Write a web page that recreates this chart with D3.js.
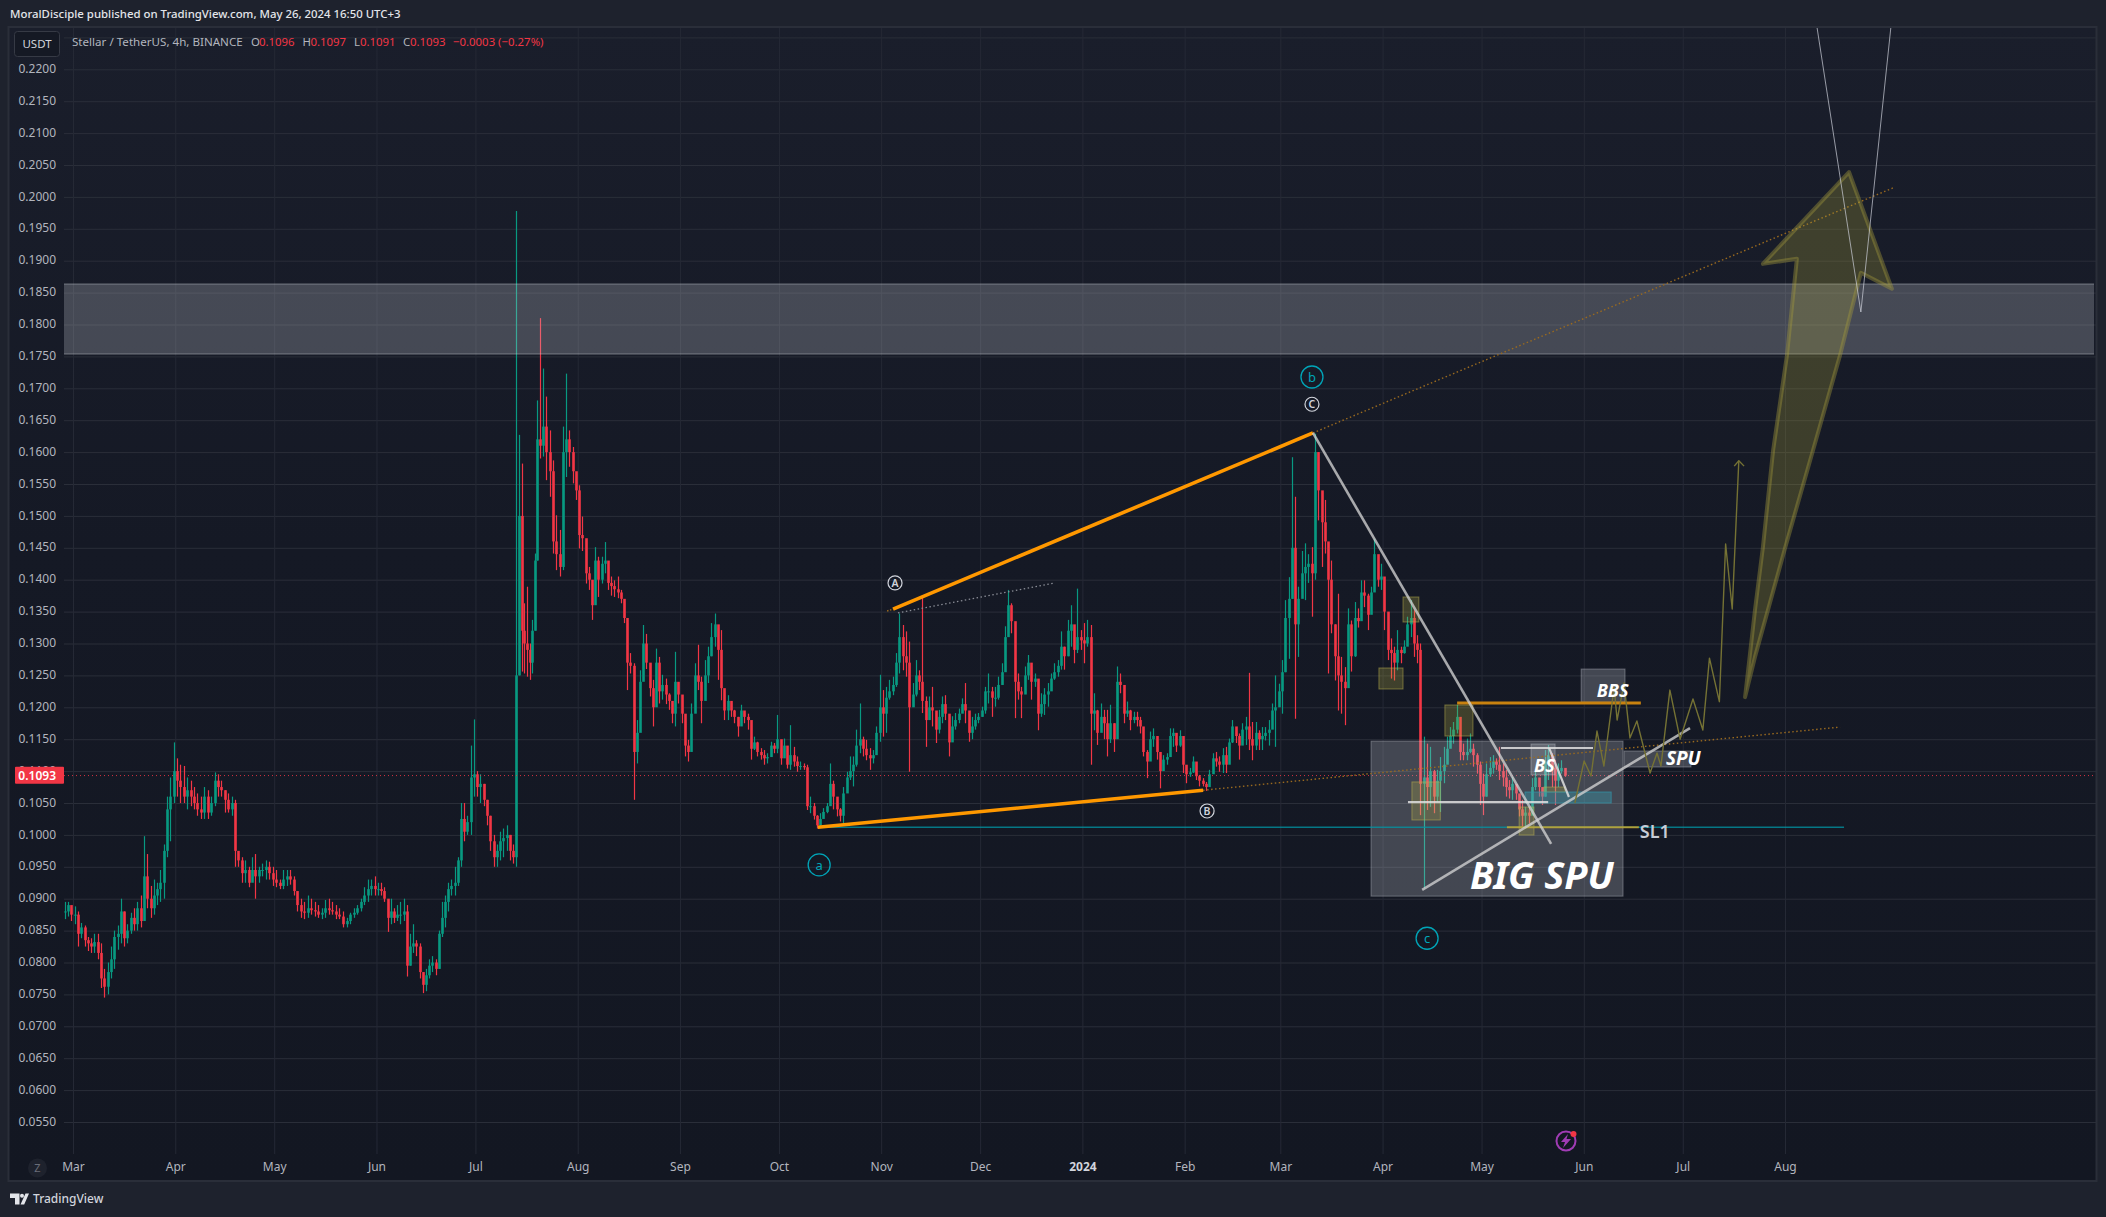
<!DOCTYPE html>
<html><head><meta charset="utf-8">
<script src="https://cdn.jsdelivr.net/npm/d3@7"></script>
<style>html,body{margin:0;padding:0;background:#1e222d;overflow:hidden}svg{display:block}
text{font-family:"Noto Sans",sans-serif}</style></head><body>
<svg id="c" width="2106" height="1217"></svg>
<script>
// Price values are in 1/10000 USDT. Rows: [high, low, close]; open is the previous close.
const feb23=[[895,868,880],[895,872,890],[885,865,875]];
const mar23=[[888,860,875],[880,825,845],[862,838,855],[858,825,835],[840,818,830],[838,815,825],[845,815,832],[845,805,815],[830,760,775],[790,745,762],[800,750,785],[825,775,805],[850,790,840],[858,820,845],[900,830,880],[880,825,838],[860,830,850],[878,845,870],[885,850,860],[895,850,885],[905,855,865],[998,890,935],[970,885,900],[920,870,885],[930,875,905],[925,890,915],[945,895,925],[985,900,975],[1060,965,1040],[1090,990,1060],[1145,1050,1100]];
const apr23=[[1120,1060,1085],[1110,1050,1075],[1108,1050,1060],[1090,1040,1070],[1085,1045,1060],[1075,1040,1050],[1065,1030,1040],[1060,1025,1035],[1075,1025,1060],[1070,1025,1035],[1060,1030,1050],[1098,1045,1085],[1095,1060,1075],[1085,1060,1070],[1070,1035,1055],[1065,1035,1040],[1060,1030,1050],[1055,950,975],[970,950,960],[965,925,940],[960,925,945],[950,918,925],[965,930,945],[970,900,935],[950,925,945],[955,935,945],[960,930,950],[958,930,940],[950,920,930]];
const may23=[[945,918,925],[930,915,920],[945,915,930],[945,920,935],[945,922,930],[935,905,912],[910,880,890],[900,870,880],[895,868,878],[905,870,885],[900,875,882],[895,872,880],[890,870,875],[885,868,878],[898,870,885],[900,875,882],[895,875,880],[890,868,875],[885,868,872],[880,855,860],[870,855,865],[878,860,875],[885,870,878],[890,875,885],[900,880,895],[918,890,905],[930,895,915],[930,905,920],[935,905,915]];
const jun23=[[925,905,915],[925,905,912],[918,895,900],[895,848,870],[900,860,880],[885,862,870],[890,865,875],[895,860,875],[900,865,880],[890,778,795],[845,795,825],[860,815,830],[835,810,825],[830,775,785],[785,752,765],[790,755,780],[805,775,795],[810,785,800],[805,780,790],[850,790,845],[895,840,870],[905,855,895],[925,880,915],[930,905,920],[950,905,925],[965,920,960],[1050,950,1025],[1050,990,1005],[1030,1000,1020],[1140,1000,1090],[1181,1060,1095]];
const jul23a=[[1100,1060,1075],[1095,1050,1080],[1080,1045,1055],[1055,1015,1030],[1030,975,990],[1000,950,965],[985,950,975],[1005,960,990],[1010,965,995],[1015,975,1000],[1000,960,975],[985,955,965]];
const jul23b=[[1978,950,1250],[1627,1250,1500],[1582,1256,1320],[1363,1253,1300],[1389,1248,1290],[1300,1243,1270],[1337,1253,1320],[1441,1320,1430],[1681,1430,1620],[1810,1590,1610]];
const jul23c=[[1731,1593,1640],[1687,1556,1600],[1634,1530,1570],[1587,1441,1460],[1501,1415,1440],[1478,1405,1420],[1640,1415,1600],[1723,1561,1620],[1634,1577,1600],[1608,1551,1570],[1566,1525,1540]];
const aug23=[[1548,1449,1470],[1499,1445,1465],[1462,1394,1410],[1420,1384,1400],[1394,1337,1360],[1451,1378,1430],[1436,1373,1400],[1436,1394,1425],[1459,1410,1430],[1420,1384,1395],[1405,1375,1390],[1399,1373,1385],[1405,1371,1380],[1384,1363,1370],[1366,1332,1340],[1332,1227,1270],[1285,1253,1265],[1269,1055,1130],[1180,1112,1160],[1258,1180,1240],[1329,1258,1300],[1315,1260,1270],[1269,1217,1230],[1243,1170,1200],[1292,1222,1270],[1279,1206,1225],[1251,1212,1235],[1245,1205,1220],[1222,1196,1210],[1206,1175,1190],[1287,1170,1240],[1238,1206,1220]];
const sep23=[[1211,1175,1190],[1180,1123,1140],[1149,1115,1130],[1206,1133,1190],[1269,1206,1250],[1298,1227,1240],[1248,1175,1210],[1274,1217,1250],[1295,1238,1280],[1332,1280,1310],[1347,1295,1330],[1324,1243,1290],[1321,1211,1230],[1225,1180,1195],[1219,1180,1210],[1207,1185,1195],[1196,1175,1185],[1185,1154,1170],[1204,1175,1195],[1193,1175,1185],[1190,1165,1180],[1154,1118,1135],[1154,1133,1145],[1146,1123,1130],[1136,1118,1125],[1133,1110,1120],[1128,1112,1122],[1146,1123,1140],[1144,1128,1135],[1188,1128,1150]];
const oct23=[[1136,1110,1120],[1151,1123,1140],[1123,1104,1110],[1172,1102,1125],[1138,1107,1115],[1123,1099,1108],[1115,1102,1108],[1112,1102,1106],[1110,1039,1045],[1060,1034,1045],[1050,1024,1030],[1031,1010,1015],[1034,1013,1025],[1042,1029,1036],[1050,1034,1045],[1112,1050,1080],[1085,1040,1060],[1050,1029,1040],[1042,1021,1030],[1075,1018,1065],[1099,1075,1090],[1123,1086,1100],[1123,1076,1110],[1165,1107,1140],[1206,1128,1150],[1154,1123,1135],[1149,1117,1125],[1136,1102,1120],[1133,1112,1125],[1170,1146,1160],[1251,1146,1200]];
const nov23=[[1227,1154,1190],[1232,1160,1215],[1243,1212,1225],[1248,1219,1235],[1285,1232,1270],[1347,1253,1310],[1329,1258,1280],[1319,1248,1270],[1303,1099,1200],[1238,1201,1220],[1274,1217,1250],[1258,1227,1240],[1376,1191,1210],[1217,1138,1180],[1217,1180,1200],[1232,1170,1195],[1191,1144,1165],[1196,1159,1185],[1217,1175,1205],[1219,1180,1190],[1180,1123,1145],[1186,1159,1170],[1191,1165,1180],[1198,1175,1190],[1214,1191,1205],[1238,1175,1195],[1175,1146,1160],[1185,1150,1170],[1190,1165,1180],[1191,1175,1185]];
const dec23=[[1201,1185,1195],[1232,1190,1225],[1253,1206,1225],[1232,1185,1215],[1232,1201,1215],[1248,1212,1235],[1269,1235,1255],[1327,1274,1310],[1384,1316,1360],[1363,1316,1335],[1277,1183,1240],[1253,1212,1225],[1232,1183,1220],[1264,1222,1250],[1282,1243,1270],[1264,1212,1240],[1253,1232,1245],[1232,1164,1190],[1222,1185,1205],[1230,1188,1220],[1238,1201,1225],[1253,1227,1245],[1269,1243,1255],[1274,1248,1265],[1319,1259,1295],[1295,1259,1280],[1337,1280,1320],[1360,1295,1330],[1311,1269,1290],[1386,1285,1310],[1321,1290,1305]];
const jan24=[[1332,1269,1300],[1337,1295,1310],[1329,1110,1190],[1222,1164,1195],[1196,1141,1160],[1206,1164,1185],[1196,1150,1175],[1196,1123,1150],[1204,1144,1175],[1175,1130,1150],[1264,1201,1240],[1253,1222,1235],[1206,1175,1190],[1209,1185,1195],[1196,1164,1180],[1193,1175,1185],[1193,1170,1180],[1185,1159,1170],[1149,1123,1130],[1133,1089,1115],[1162,1133,1150],[1167,1138,1155],[1146,1118,1130],[1117,1073,1100],[1125,1110,1118],[1128,1110,1122],[1167,1133,1155],[1167,1138,1160],[1154,1130,1140],[1164,1138,1155],[1136,1097,1110]];
const feb24=[[1107,1081,1095],[1105,1091,1098],[1123,1097,1115],[1104,1086,1092],[1094,1076,1085],[1089,1076,1080],[1083,1069,1075],[1102,1081,1095],[1128,1102,1120],[1130,1107,1115],[1123,1099,1110],[1136,1097,1125],[1138,1097,1110],[1151,1123,1145],[1180,1144,1170],[1164,1144,1155],[1159,1118,1140],[1175,1149,1165],[1185,1141,1170],[1254,1133,1150],[1177,1117,1140],[1177,1133,1160],[1164,1133,1150],[1169,1133,1155],[1169,1148,1160],[1180,1140,1165],[1206,1180,1195],[1250,1138,1200],[1237,1206,1225]];
const mar24=[[1274,1190,1255],[1368,1255,1340],[1404,1276,1370],[1592,1370,1450],[1530,1182,1330],[1389,1279,1370],[1445,1380,1410],[1457,1368,1420],[1440,1395,1425],[1451,1342,1410],[1629,1400,1600],[1600,1493,1540],[1538,1420,1490],[1525,1441,1460],[1457,1253,1400],[1430,1316,1330],[1330,1242,1280],[1378,1195,1250],[1279,1190,1240],[1263,1172,1230],[1355,1290,1330],[1336,1256,1280],[1365,1279,1340],[1355,1325,1335],[1399,1342,1380],[1399,1357,1375],[1378,1321,1345],[1389,1363,1380],[1464,1389,1440],[1415,1389,1400],[1425,1384,1405]];
const apr24=[[1381,1321,1350],[1321,1274,1290],[1308,1245,1285],[1295,1242,1270],[1321,1258,1290],[1295,1269,1285],[1305,1284,1295],[1342,1300,1330],[1368,1310,1340],[1352,1279,1300],[1313,1269,1290],[1300,1031,1080],[1154,916,1090],[1143,1039,1075],[1138,1044,1100],[1102,1034,1060],[1102,1052,1085],[1122,1036,1100],[1138,1081,1110],[1154,1112,1135],[1169,1138,1155],[1177,1143,1165],[1204,1159,1185],[1149,1117,1130],[1143,1117,1125],[1151,1117,1130],[1159,1128,1135],[1143,1107,1125],[1128,1096,1110],[1115,1047,1080]];
const may24=[[1096,1031,1060],[1112,1060,1095],[1122,1091,1105],[1125,1096,1115],[1120,1102,1110],[1138,1086,1100],[1112,1076,1090],[1102,1060,1075],[1086,1057,1070],[1091,1055,1080],[1076,1055,1065],[1060,1029,1040],[1055,1013,1030],[1044,1013,1035],[1044,1018,1030],[1089,1040,1075],[1099,1070,1090],[1086,1060,1075],[1070,1047,1060],[1133,1060,1115],[1141,1086,1125],[1128,1075,1105],[1117,1047,1085],[1112,1075,1100],[1117,1096,1105],[1104,1091,1093]];
const candleSections=[["2023-02-26",feb23],["2023-03-01",mar23],["2023-04-01",apr23],["2023-05-01",may23],["2023-06-01",jun23],["2023-07-01",jul23a],["2023-07-13",jul23b],["2023-07-21",jul23c],["2023-08-01",aug23],["2023-09-01",sep23],["2023-10-01",oct23],["2023-11-01",nov23],["2023-12-01",dec23],["2024-01-01",jan24],["2024-02-01",feb24],["2024-03-01",mar24],["2024-04-01",apr24],["2024-05-01",may24],["2024-05-26T16:00",null]];

const priceTicks=[2200,2150,2100,2050,2000,1950,1900,1850,1800,1750,1700,1650,1600,1550,1500,1450,1400,1350,1300,1250,1200,1150,1100,1050,1000,950,900,850,800,750,700,650,600,550];
const tickDates=["2023-03-01","2023-04-01","2023-05-01","2023-06-01","2023-07-01","2023-08-01","2023-09-01","2023-10-01","2023-11-01","2023-12-01","2024-01-01","2024-02-01","2024-03-01","2024-04-01","2024-05-01","2024-06-01","2024-07-01","2024-08-01"];
const tickLabels=["Mar","Apr","May","Jun","Jul","Aug","Sep","Oct","Nov","Dec","2024","Feb","Mar","Apr","May","Jun","Jul","Aug"];

// Drawings: [days since 2023-03-01, price]
const wedgeTop=[[248.6,1354],[375.9,1630]], wedgeTopExt=[[375.9,1630],[551.7,2014]], wedgeTopStub=[[246.8,1351],[248.6,1354]];
const wedgeBot=[[225.8,1012],[342.6,1070]], wedgeBotExt=[[342.6,1070],[535.7,1169]];
const tealLine=[[225.8,1012],[536.9,1012]];
const greyDotted=[[250.1,1348],[297.7,1395]];
const fallLine=[[375.9,1630],[448.1,986]];
const riseLine=[[409,914],[490.2,1167.5]];
const bbsLine=[[419.6,1206.8],[475.3,1206.8]];
const slLine=[[434.7,1012],[474.7,1012]];
const whiteH1=[[432.9,1136.2],[460.8,1136.2]], whiteH2=[[404.7,1051.5],[447.2,1051.5]], whiteShort=[[447.5,1136],[453.5,1059.4]];
const zigzag=[[455.3,1050],[458.1,1115.8],[460.2,1092.3],[462,1162.8],[464.1,1108],[467.2,1231.8],[468.1,1180],[470.2,1238],[472,1152],[474.1,1178.5],[478.1,1097],[480.2,1128.4],[481.4,1108],[484.1,1227],[487.2,1150],[491.1,1213],[494.1,1164.4],[496.1,1277],[499.1,1208.8],[501,1456],[503,1354],[505,1586.5]];
const zigzagHead=[[503.6,1578],[505,1586.5],[506.6,1578]];
const bigArrow=[[506.9,1216],[509.9,1352.5],[512.3,1451],[515.4,1603],[519.6,1752],[522.6,1903],[512.3,1895],[538.4,2039],[551.4,1856],[542,1881],[535.7,1752],[527.5,1603],[519.1,1451],[509.9,1279]];
const vLines=[[528.7,2266],[542,1819.6],[551.1,2266]];
const zoneBand=[1863.5,1753.7];
const whiteBoxes=[[393.5,469.9,1147,904],[457.2,470.5,1260,1208],[442,449.3,1142.5,1094],[470.2,490.5,1131.5,1106.4]];
const oliveBoxes=[[403.2,408,1372.9,1333.7],[395.9,403.2,1261.6,1228.7],[415.9,424.4,1203.6,1155],[405.9,414.5,1083,1023.4],[438.4,442.9,1043.7,999.8],[445.9,452.3,1075,1067.2]];
const tealBox=[440.2,466.3,1067.2,1050];
const greyMarks=[["C",375.6,1675],["A",249.2,1395],["B",343.8,1037.5]];
const tealMarks=[["b",375.6,1717.7],["a",226.2,953],["c",410.5,838]];
const boxTexts=[["BIG SPU",423.5,915.2,38,"#fff"],["BBS",461.9,1216,18,"#fff"],["BS",442.9,1098.6,18,"#fff"],["SPU",482.9,1109.6,19,"#fff"]];
const lastPrice=1093;

const W=2106,H=1217,PL=64,PR=2096,PT=28,PB=1181,PlotB=1154;
const x=d3.scaleUtc().domain([new Date("2023-03-01T00:00Z"),new Date("2024-08-01T00:00Z")]).range([73,1785]);
const y=d3.scaleLinear().domain([2200,550]).range([69.3,1122]);
const fromDay=d=>x(new Date(Date.UTC(2023,2,1)+d*864e5));
const svg=d3.select("#c");
const defs=svg.append("defs");
const g=defs.append("linearGradient").attr("id","bg").attr("x1",0).attr("x2",0).attr("y1",0).attr("y2",1);
g.append("stop").attr("offset",0).attr("stop-color","#1a1e2b");
g.append("stop").attr("offset",.45).attr("stop-color","#151925");
g.append("stop").attr("offset",1).attr("stop-color","#131722");
defs.append("clipPath").attr("id","clip").append("rect").attr("x",PL).attr("y",PT).attr("width",PR-PL).attr("height",PlotB-PT);

svg.append("rect").attr("width",W).attr("height",H).attr("fill","#1e222d");
svg.append("rect").attr("x",8.5).attr("y",27).attr("width",PR-8).attr("height",PB-27).attr("fill","url(#bg)").attr("stroke","#2a2e39").attr("stroke-width",2);

// Grid through axes
const gridY=svg.append("g").attr("transform",`translate(${PL},0)`).call(d3.axisRight(y).tickValues([2250,...priceTicks]).tickSize(PR-PL).tickFormat(""));
gridY.select(".domain").remove();
gridY.selectAll("line").attr("stroke","#2a2e39").attr("stroke-width",1);
const xDates=tickDates.map(d=>new Date(d+"T00:00Z"));
const gridX=svg.append("g").attr("transform",`translate(0,${PlotB})`).call(d3.axisTop(x).tickValues(xDates).tickSize(PlotB-PT).tickFormat(""));
gridX.select(".domain").remove();
gridX.selectAll("line").attr("stroke","#252935").attr("stroke-width",1);

// Candles
const rows=[];let prev=880;
candleSections.forEach(([start,list],k)=>{
  if(!list)return;
  const a=+new Date(start+(start.includes("T")?"Z":"T00:00Z")),s=candleSections[k+1][0],b=+new Date(s+(s.includes("T")?"Z":"T00:00Z"));
  list.forEach((r,i)=>{rows.push({t:new Date(a+(b-a)*(i+.5)/list.length),h:r[0],l:r[1],o:prev,c:r[2]});prev=r[2];});
});
const UP="#089981",DN="#f23645";
const chart=svg.append("g").attr("clip-path","url(#clip)");
const cg=chart.append("g");
cg.selectAll("line").data(rows).join("line")
 .attr("x1",d=>Math.round(x(d.t))+.5).attr("x2",d=>Math.round(x(d.t))+.5)
 .attr("y1",d=>y(d.h)).attr("y2",d=>y(d.l)).attr("stroke",d=>d.c>=d.o?UP:DN).attr("stroke-width",1.2);
cg.selectAll("rect").data(rows).join("rect")
 .attr("x",d=>Math.round(x(d.t))-.8).attr("width",2.6)
 .attr("y",d=>y(Math.max(d.o,d.c))).attr("height",d=>Math.max(1,Math.abs(y(d.o)-y(d.c))))
 .attr("fill",d=>d.c>=d.o?UP:DN);

// Last price line
chart.append("line").attr("x1",PL).attr("x2",PR).attr("y1",y(lastPrice)).attr("y2",y(lastPrice)).attr("stroke",DN).attr("stroke-opacity",.85).attr("stroke-width",1).attr("stroke-dasharray","1 3");

const path=d3.line().x(d=>fromDay(d[0])).y(d=>y(d[1]));
function draw(pts,color,w,dash,cap){return chart.append("path").attr("d",path(pts)).attr("fill","none").attr("stroke",color).attr("stroke-width",w).attr("stroke-dasharray",dash||null).attr("stroke-linecap",cap||"butt").attr("stroke-linejoin","round");}
function box(b,fill,stroke){return chart.append("rect").attr("x",fromDay(b[0])).attr("width",fromDay(b[1])-fromDay(b[0])).attr("y",y(b[2])).attr("height",y(b[3])-y(b[2])).attr("fill",fill).attr("stroke",stroke).attr("stroke-width",1);}

// Zone
chart.append("rect").attr("x",PL).attr("width",PR-PL-2).attr("y",y(zoneBand[0])).attr("height",y(zoneBand[1])-y(zoneBand[0])).attr("fill","rgba(209,212,220,.25)");
[zoneBand[0],zoneBand[1]].forEach(p=>chart.append("line").attr("x1",PL).attr("x2",PR-2).attr("y1",y(p)).attr("y2",y(p)).attr("stroke","rgba(200,203,210,.45)"));

whiteBoxes.forEach(b=>box(b,"rgba(209,212,220,.25)","rgba(209,212,220,.35)"));
oliveBoxes.forEach(b=>box(b,"rgba(190,180,70,.26)","rgba(190,180,80,.5)"));
box(tealBox,"rgba(60,150,170,.42)","rgba(50,150,170,.7)");

draw(tealLine,"rgba(0,151,167,.75)",1.5);
draw(wedgeTopExt,"#9a6a1f",1.4,"1.5 2.5");
draw(wedgeBotExt,"#9a6a1f",1.4,"1.5 2.5");
draw(wedgeTopStub,"#9a6a1f",1.4,"1.5 1.5");
draw(greyDotted,"#8a8d96",1.4,"1.5 2.5");
draw(wedgeTop,"#ff9800",3.6);
draw(wedgeBot,"#ff9800",3.6);
draw(bbsLine,"#c9820f",3);
draw(slLine,"rgba(215,170,40,.8)",2.2);
draw(fallLine,"rgba(210,210,210,.78)",2.6);
draw(riseLine,"rgba(210,210,210,.78)",2.6);
draw(whiteH1,"rgba(225,225,225,.85)",2.2);
draw(whiteH2,"rgba(225,225,225,.85)",2.2);
draw(whiteShort,"rgba(225,225,225,.85)",2.2);
draw(zigzag,"#757234",1.4);
draw(zigzagHead,"#757234",1.4);
chart.append("path").attr("d",path(bigArrow)+"Z").attr("fill","rgba(180,170,60,.25)").attr("stroke","rgba(165,155,60,.4)").attr("stroke-width",4).attr("stroke-linejoin","round");
draw(vLines,"rgba(205,208,218,.7)",1);

// Wave marks
greyMarks.forEach(([t,d,p])=>{
 chart.append("circle").attr("cx",fromDay(d)).attr("cy",y(p)).attr("r",7).attr("fill","none").attr("stroke","#d1d4dc").attr("stroke-width",1.2);
 chart.append("text").attr("x",fromDay(d)).attr("y",y(p)+4).attr("text-anchor","middle").attr("fill","#d1d4dc").attr("font-size",10.5).attr("font-weight",600).text(t);
});
tealMarks.forEach(([t,d,p])=>{
 chart.append("circle").attr("cx",fromDay(d)).attr("cy",y(p)).attr("r",11).attr("fill","none").attr("stroke","#00a5b8").attr("stroke-width",1.3);
 chart.append("text").attr("x",fromDay(d)).attr("y",y(p)+5).attr("text-anchor","middle").attr("fill","#00a5b8").attr("font-size",13).text(t);
});
boxTexts.forEach(([t,d,p,s,c])=>chart.append("text").attr("x",fromDay(d)).attr("y",y(p)).attr("fill",c).attr("font-size",s).attr("font-weight",700).attr("font-style","italic").attr("font-family","'Open Sans',sans-serif").text(t));
chart.append("text").attr("x",fromDay(475)).attr("y",y(995)).attr("fill","#c8ccd6").attr("font-size",18).attr("font-weight",600).text("SL1");

// Bolt
const bolt=svg.append("g").attr("transform","translate(1566,1141)");
bolt.append("circle").attr("r",9.5).attr("fill","none").attr("stroke","#a03cb4").attr("stroke-width",2);
bolt.append("path").attr("d","M2 -7 L-5 1 L-1 1 L-3 7 L5 -2 L0.5 -2 Z").attr("fill","#a03cb4");
bolt.append("circle").attr("cx",7.5).attr("cy",-7).attr("r",3).attr("fill","#f23645");

// Axes
const axisY=svg.append("g").attr("transform","translate(56,0)").call(d3.axisLeft(y).tickValues(priceTicks).tickSize(0).tickFormat(d=>(d/10000).toFixed(4)));
axisY.select(".domain").remove();
axisY.selectAll("text").attr("x",0).attr("dy",".26em").attr("fill","#b2b5be").attr("font-size",12).attr("font-family","'Noto Sans',sans-serif");
const axisX=svg.append("g").attr("transform","translate(0,1167)").call(d3.axisBottom(x).tickValues(xDates).tickSize(0).tickFormat((d,i)=>tickLabels[i]));
axisX.select(".domain").remove();
axisX.selectAll("text").attr("y",0).attr("dy",".34em").attr("fill","#b2b5be").attr("font-size",12).attr("font-family","'Noto Sans',sans-serif");
axisX.selectAll("text").filter((d,i)=>tickLabels[i]==="2024").attr("font-weight",700).attr("fill","#d1d4dc");

// Last price tag
svg.append("rect").attr("x",15).attr("y",y(lastPrice)-8.7).attr("width",49).attr("height",17).attr("fill",DN).attr("rx",1);
svg.append("text").attr("x",56).attr("y",y(lastPrice)+4.3).attr("text-anchor","end").attr("fill","#fff").attr("font-size",12).attr("font-weight",600).text((lastPrice/1e4).toFixed(4));

// Header
svg.append("text").attr("x",10).attr("y",18).attr("fill","#e3e5ea").attr("font-size",11.4).attr("font-weight",500).text("MoralDisciple published on TradingView.com, May 26, 2024 16:50 UTC+3");
svg.append("rect").attr("x",14.5).attr("y",31.5).attr("width",45).attr("height",25).attr("rx",3).attr("fill","#151924").attr("stroke","#363a45");
svg.append("text").attr("x",37).attr("y",48).attr("text-anchor","middle").attr("fill","#d1d4dc").attr("font-size",11.5).text("USDT");
const legendParts=[["Stellar / TetherUS, 4h, BINANCE",72,"#b2b5be",11.6],["O",251,"#b2b5be",11.4],["0.1096",259,DN,11.4],["H",302.5,"#b2b5be",11.4],["0.1097",310.5,DN,11.4],["L",354,"#b2b5be",11.4],["0.1091",360,DN,11.4],["C",403,"#b2b5be",11.4],["0.1093",410,DN,11.4],["−0.0003 (−0.27%)",453,DN,11.4]];
legendParts.forEach(([t,xp,c,s])=>svg.append("text").attr("x",xp).attr("y",46).attr("fill",c).attr("font-size",s).text(t));

// Z button
svg.append("circle").attr("cx",37.5).attr("cy",1168).attr("r",9.5).attr("fill","#1e222d");
svg.append("text").attr("x",37.5).attr("y",1172).attr("text-anchor","middle").attr("fill","#6a6d78").attr("font-size",11).text("Z");

// Footer
svg.append("path").attr("d","M10 1193.5 h9.5 v11 h-4.5 v-6.5 h-5 Z M25.5 1193.5 h3.5 l-4.8 11 h-3.7 Z").attr("fill","#e3e5ea");
svg.append("circle").attr("cx",22).attr("cy",1195.8).attr("r",2).attr("fill","#e3e5ea");
svg.append("text").attr("x",33).attr("y",1203).attr("fill","#d1d4dc").attr("font-size",12).attr("font-weight",500).text("TradingView");
</script></body></html>
